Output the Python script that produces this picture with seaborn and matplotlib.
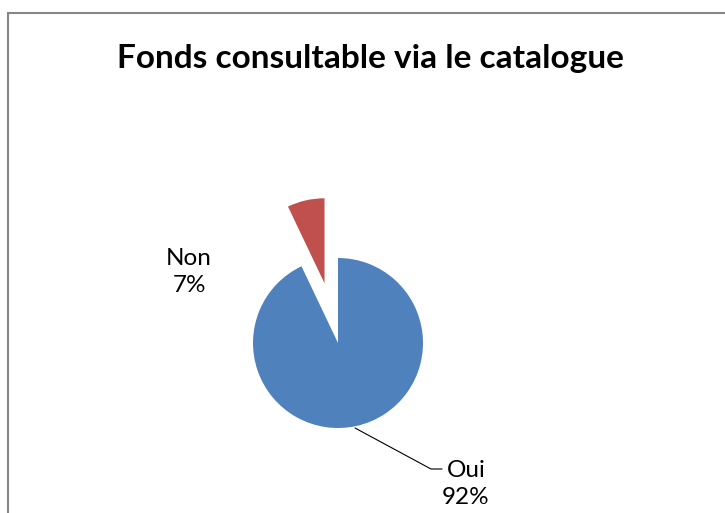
import matplotlib
matplotlib.use("Agg")
import matplotlib.pyplot as plt
import seaborn as sns

# Données du graphique
categories = ["Oui", "Non"]
pourcentages = [92, 7]
couleurs = ["#4F81BD", "#C0504D"]
titre = "Fonds consultable via le catalogue"

sns.set_theme(style="white")
plt.rcParams["font.family"] = ["Lato", "DejaVu Sans"]

W, H = 725, 513
fig = plt.figure(figsize=(W / 100, H / 100), dpi=100)
ax = fig.add_axes([0, 0, 1, 1])

# rayon 85 px, centre du camembert en (338, 343) px
R = 85.0
cx, cy = 338, 343


def px(x, y):
    return (x - cx) / R, (cy - y) / R


ax.pie(pourcentages, colors=couleurs, startangle=90, counterclock=False,
       explode=[0, 0.72], radius=1, wedgeprops=dict(linewidth=0))
ax.set_xlim(-cx / R, (W - cx) / R)
ax.set_ylim(-(H - cy) / R, cy / R)
ax.axis("off")

# Étiquettes
etiquettes = [f"{c}\n{p}%" for c, p in zip(categories, pourcentages)]
ax.text(*px(466, 484), etiquettes[0], ha="center", va="center",
        fontsize=17.5, color="#000000", linespacing=1.3)
ax.text(*px(189, 272), etiquettes[1], ha="center", va="center",
        fontsize=17.5, color="#000000", linespacing=1.3)

# Ligne de rappel pour "Oui"
p1, p2, p3 = px(355, 428), px(431, 469), px(442, 469)
ax.plot([p1[0], p2[0], p3[0]], [p1[1], p2[1], p3[1]], color="#000000", lw=0.8)

# Titre
fig.text(370 / W, 1 - 59 / H, titre, ha="center", va="center",
         fontsize=24, fontweight="bold", color="#000000")

# Cadre du graphique (coupé à droite et en bas)
bord = "#868686"
fig.add_artist(plt.Line2D([8 / W, 8 / W], [0, 1 - 13 / H], color=bord, lw=1.5,
                          transform=fig.transFigure))
fig.add_artist(plt.Line2D([8 / W, 1], [1 - 13 / H, 1 - 13 / H], color=bord, lw=1.5,
                          transform=fig.transFigure))

fig.savefig("out.png", dpi=100)
